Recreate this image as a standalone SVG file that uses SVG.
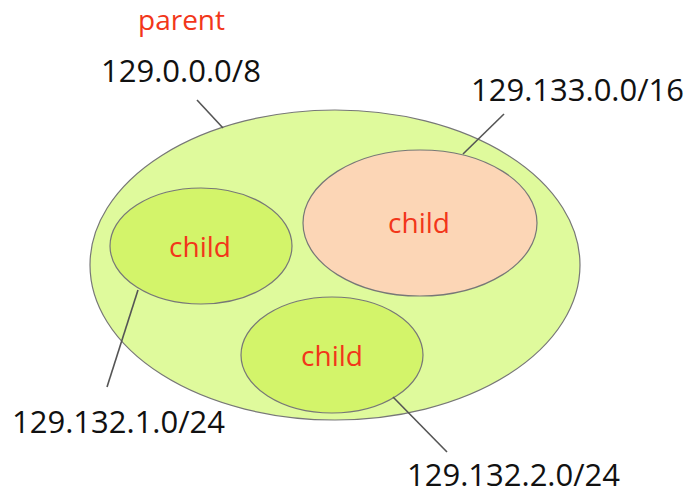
<svg xmlns="http://www.w3.org/2000/svg" width="694" height="494" viewBox="0 0 694 494">
  <style>
    .net { stroke: #777; stroke-width: 1.2; }
    .outer { fill: #dffa9c; }
    .inner { fill: #d3f46a; }
    .peach { fill: #fcd6b6; }
    .lead { stroke: #555; stroke-width: 1.6; fill: none; }
    .addr { font-family: "Open Sans", "DejaVu Sans", sans-serif; font-size: 31px; fill: #111; }
    .tag { font-family: "Open Sans", "DejaVu Sans", sans-serif; font-size: 28px; fill: #f2361a; }
  </style>
  <rect width="694" height="494" fill="#fff"/>

  <!-- parent network -->
  <g id="parent">
    <ellipse class="net outer" cx="335" cy="265" rx="245" ry="155"/>
    <text class="tag" x="138" y="30">parent</text>
    <text class="addr" x="101" y="82">129.0.0.0/8</text>
  </g>

  <!-- subnets -->
  <g id="child-133">
    <ellipse class="net peach" cx="420" cy="223" rx="117" ry="73"/>
    <text class="tag" x="419" y="233" text-anchor="middle">child</text>
    <text class="addr" x="471" y="101">129.133.0.0/16</text>
  </g>
  <g id="child-132-1">
    <ellipse class="net inner" cx="201" cy="246" rx="91" ry="58"/>
    <text class="tag" x="200" y="257" text-anchor="middle">child</text>
    <text class="addr" x="12" y="433">129.132.1.0/24</text>
  </g>
  <g id="child-132-2">
    <ellipse class="net inner" cx="332" cy="355" rx="91" ry="58"/>
    <text class="tag" x="332" y="366" text-anchor="middle">child</text>
    <text class="addr" x="407" y="486">129.132.2.0/24</text>
  </g>

  <!-- label leaders -->
  <g id="connectors">
    <line class="lead" x1="197" y1="100" x2="223" y2="128"/>
    <line class="lead" x1="504" y1="114" x2="463" y2="154"/>
    <line class="lead" x1="138" y1="290" x2="107" y2="387"/>
    <line class="lead" x1="393" y1="397" x2="447" y2="452"/>
  </g>
</svg>
